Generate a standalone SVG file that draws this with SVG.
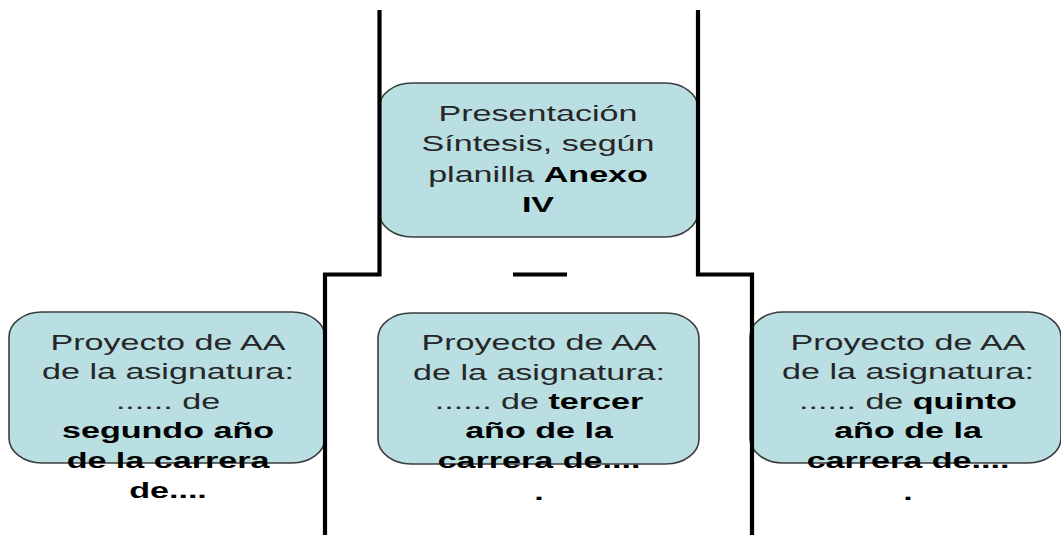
<svg xmlns="http://www.w3.org/2000/svg" width="1061" height="535" viewBox="0 0 1061 535">
<style>
.box{fill:#badfe3;stroke:#3c3c3c;stroke-width:1.6}
.t{font-family:"Liberation Sans",Arial,sans-serif;font-size:22.5px;fill:#262626;text-anchor:middle}
.b{font-weight:bold;fill:#000}
.ln{fill:none;stroke:#000;stroke-width:4.2}
</style>
<rect width="1061" height="535" fill="#fff"/>
<g id="node-top">
<rect class="box" x="379" y="83" width="319" height="154" rx="33" ry="25"/>
<g transform="translate(538,0) scale(1.515,1)">
<text class="t" x="0" y="121">Presentación</text>
<text class="t" x="0" y="151.5">Síntesis, según</text>
<text class="t" x="0" y="182.5">planilla <tspan class="b">Anexo</tspan></text>
<text class="t b" x="0" y="212">IV</text>
</g>
</g>
<g id="node-left">
<rect class="box" x="9" y="312" width="316" height="151" rx="33" ry="25"/>
<g transform="translate(168,0) scale(1.515,1)">
<text class="t" x="0" y="350">Proyecto de AA</text>
<text class="t" x="0" y="379.5">de la asignatura:</text>
<text class="t" x="0" y="409">...... de</text>
<text class="t b" x="0" y="438">segundo año</text>
<text class="t b" x="0" y="468">de la carrera</text>
<text class="t b" x="0" y="498.5">de....</text>
</g>
</g>
<g id="node-middle">
<rect class="box" x="378" y="313" width="321" height="151" rx="33" ry="25"/>
<g transform="translate(539,0) scale(1.515,1)">
<text class="t" x="0" y="350">Proyecto de AA</text>
<text class="t" x="0" y="380">de la asignatura:</text>
<text class="t" x="0" y="409.5">...... de <tspan class="b">tercer</tspan></text>
<text class="t b" x="0" y="438.5">año de la</text>
<text class="t b" x="0" y="468">carrera de....</text>
<text class="t b" x="0" y="500">.</text>
</g>
</g>
<g id="node-right">
<rect class="box" x="750" y="312" width="311" height="151" rx="33" ry="25"/>
<g transform="translate(908,0) scale(1.515,1)">
<text class="t" x="0" y="350">Proyecto de AA</text>
<text class="t" x="0" y="379.5">de la asignatura:</text>
<text class="t" x="0" y="409">...... de <tspan class="b">quinto</tspan></text>
<text class="t b" x="0" y="438">año de la</text>
<text class="t b" x="0" y="468">carrera de....</text>
<text class="t b" x="0" y="500">.</text>
</g>
</g>
<g id="connectors">
<path class="ln" d="M379.5,10 V274.5 H325 V535"/>
<path class="ln" d="M698,10 V274.5 H752 V535"/>
<path class="ln" d="M513,274.5 H567"/>
</g>
</svg>
